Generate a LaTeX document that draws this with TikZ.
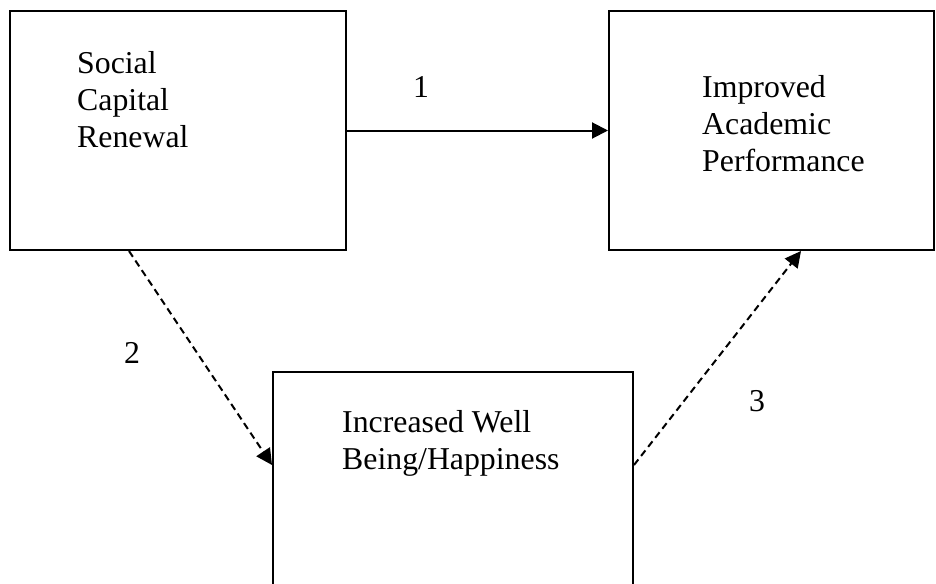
\documentclass[tikz,border=0pt]{standalone}
\usepackage{fontspec}
\setmainfont{Liberation Serif}
\usetikzlibrary{positioning,calc,arrows.meta}

\tikzset{
    box/.style={draw, line width=2pt, rectangle, inner sep=0pt},
    lbl/.style={anchor=north west, align=left, inner sep=0pt, font=\fontsize{31.8}{37}\selectfont},
    num/.style={anchor=base, inner sep=0pt, font=\fontsize{31.8}{37}\selectfont},
    link/.style={-{Triangle[length=16pt,width=16pt]}, line width=2pt},
}

\begin{document}
\begin{tikzpicture}[x=1pt, y=-1pt]
    \useasboundingbox (0,0) rectangle (936,583);
    \clip (0,0) rectangle (936,583);

    % the three boxes
    \node[box, minimum width=336pt, minimum height=239pt] (social) at (178,130.5) {};
    \node[box, minimum width=325pt, minimum height=239pt] (perf) at (771.5,130.5) {};
    \node[box, minimum width=360pt, minimum height=239pt] (well) at (453,491.5) {};

    \node[lbl] (socialtxt) at (77,51.7) {Social\\Capital\\Renewal};
    \node[lbl] (perftxt) at (702,75.7) {Improved\\Academic\\Performance};
    \node[lbl] (welltxt) at (342,410.7) {Increased Well\\Being/Happiness};

    % arrows
    \draw[link] (social) -- (perf);
    \draw[link, dash pattern=on 7pt off 4.5pt] ([xshift=-49pt]social.south) -- ([yshift=26.5pt]well.west);
    \draw[link, dash pattern=on 7pt off 4.5pt] ([yshift=26.5pt]well.east) -- ([xshift=29.5pt]perf.south);

    \node[num] (one) at (421,98) {1};
    \node[num] (two) at (132,363) {2};
    \node[num] (three) at (757,411) {3};
\end{tikzpicture}
\end{document}
